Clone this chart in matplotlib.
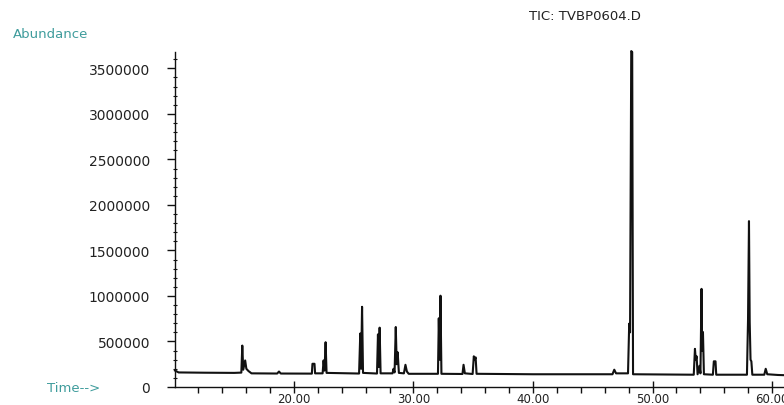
"""Cromatograma TIC (TVBP0604.D) no estilo da saída do ChemStation."""
import matplotlib
matplotlib.use("Agg")
import matplotlib.pyplot as plt
import matplotlib.ticker as mticker

INK = "#111111"
LABEL = "#222222"
TEAL = "#3f9c9c"

# Vértices do traço: tempo (min) e abundância
time_min = [
    10.05, 10.35, 12.50, 15.00, 15.60, 15.68, 15.76, 15.92, 16.02, 16.20,
    16.45, 18.60, 18.75, 18.90, 21.50, 21.55, 21.72, 21.77, 22.40, 22.48,
    22.56, 22.65, 22.73, 25.45, 25.55, 25.62, 25.70, 25.78, 26.95, 27.03,
    27.10, 27.17, 27.25, 28.25, 28.33, 28.42, 28.52, 28.60, 28.68, 28.78,
    29.20, 29.33, 29.45, 29.60, 32.05, 32.12, 32.19, 32.26, 32.34, 34.10,
    34.19, 34.30, 34.95, 35.05, 35.12, 35.20, 35.28, 40.00, 46.65, 46.80,
    46.95, 47.95, 48.05, 48.12, 48.22, 48.30, 48.37, 53.45, 53.55, 53.62,
    53.69, 53.77, 53.93, 54.01, 54.10, 54.15, 54.22, 54.30, 55.05, 55.13,
    55.27, 55.33, 57.90, 57.99, 58.07, 58.13, 58.20, 58.27, 58.35, 59.35,
    59.47, 59.60, 60.50, 61.00,
]
abundance = [
    181000, 160000, 157000, 155000, 158000, 455000, 190000, 292000, 200000, 175000,
    150000, 148000, 170000, 148000, 147000, 255000, 255000, 150000, 150000, 292000,
    180000, 492000, 155000, 148000, 588000, 200000, 881000, 155000, 148000, 578000,
    220000, 652000, 150000, 150000, 200000, 160000, 659000, 250000, 381000, 155000,
    150000, 244000, 170000, 145000, 145000, 755000, 300000, 1003000, 145000, 143000,
    244000, 150000, 143000, 337000, 300000, 326000, 145000, 140000, 140000, 190000,
    150000, 150000, 696000, 600000, 3690000, 3680000, 140000, 135000, 419000, 300000,
    337000, 140000, 233000, 150000, 1078000, 400000, 604000, 140000, 135000, 282000,
    282000, 135000, 135000, 733000, 1822000, 714000, 300000, 282000, 135000, 135000,
    200000, 140000, 132000, 130000,
]

x_major = [20, 30, 40, 50, 60]
y_major = [0, 500000, 1000000, 1500000, 2000000, 2500000, 3000000, 3500000]

plt.rcParams.update({
    "font.family": "DejaVu Sans",
    "font.size": 10,
    "axes.linewidth": 1.0,
})

fig = plt.figure(figsize=(7.84, 4.06), dpi=100)
ax = fig.add_axes([175 / 784, 18 / 406, 1 - 175 / 784, (388 - 53) / 406])

ax.plot(time_min, abundance, color=INK, linewidth=1.5, clip_on=False)

ax.set_xlim(10.05, 61.0)
ax.set_ylim(0, 3680000)
ax.spines[["top", "right"]].set_visible(False)
ax.spines[["left", "bottom"]].set_color(INK)

ax.xaxis.set_major_locator(mticker.FixedLocator(x_major))
ax.xaxis.set_minor_locator(mticker.MultipleLocator(2))
ax.xaxis.set_major_formatter(mticker.StrMethodFormatter("{x:.2f}"))
ax.yaxis.set_major_locator(mticker.FixedLocator(y_major))
ax.yaxis.set_minor_locator(mticker.MultipleLocator(100000))
ax.yaxis.set_major_formatter(mticker.StrMethodFormatter("{x:.0f}"))

ax.tick_params(axis="x", which="major", direction="inout", length=9, width=1,
               pad=-1, labelsize=8.5, labelcolor=LABEL, color=INK)
ax.tick_params(axis="x", which="minor", direction="out", length=4, width=1, color=INK)
ax.tick_params(axis="y", which="major", direction="out", length=6, width=1,
               pad=12, labelsize=10, labelcolor=LABEL, color=INK)
ax.tick_params(axis="y", which="minor", direction="inout", length=3, width=0.8, color=INK)

fig.text(585 / 784, 1 - 17 / 406, "TIC: TVBP0604.D", ha="center", va="center",
         fontsize=9.5, color=LABEL)
fig.text(13 / 784, 1 - 34 / 406, "Abundance", ha="left", va="center",
         fontsize=9.5, color=TEAL)
fig.text(47 / 784, 1 - 389 / 406, "Time-->", ha="left", va="center",
         fontsize=9.5, color=TEAL)

fig.savefig("out.png", dpi=100, facecolor="white")
plt.close(fig)
